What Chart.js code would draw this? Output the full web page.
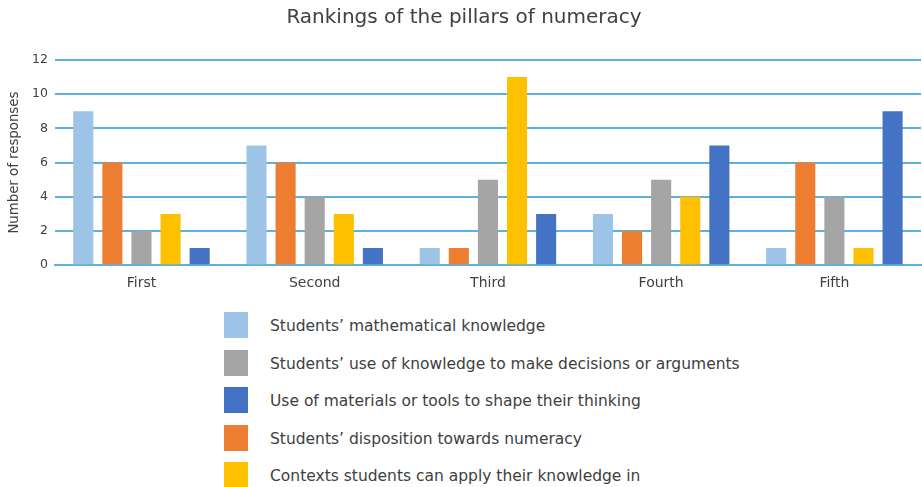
<!DOCTYPE html>
<html>
<head>
<meta charset="utf-8">
<script src="https://cdn.jsdelivr.net/npm/chart.js@4/dist/chart.umd.min.js"></script>
<style>
  html, body { margin: 0; padding: 0; background: #fff; }
  #wrap { position: relative; width: 922px; height: 487px; }
  #chartBox { position: absolute; left: 0; top: 0; width: 922px; height: 302px; }
  #legend { position: absolute; left: 224px; top: 312px; font-family: "DejaVu Sans", Verdana, sans-serif; font-size: 15.5px; color: #404040; }
  .row { position: relative; height: 37.6px; }
  .box { position: absolute; left: 0; top: 0; width: 24px; height: 26px; }
  .lbl { position: absolute; left: 46px; top: 5px; white-space: nowrap; }
</style>
</head>
<body>
<div id="wrap">
  <div id="chartBox"><canvas id="c" width="922" height="302"></canvas></div>
  <div id="legend"></div>
</div>
<script>
const categories = ["First", "Second", "Third", "Fourth", "Fifth"];
const seriesNames = [
  "Students\u2019 mathematical knowledge",
  "Students\u2019 disposition towards numeracy",
  "Students\u2019 use of knowledge to make decisions or arguments",
  "Contexts students can apply their knowledge in",
  "Use of materials or tools to shape their thinking"
];
const mathKnowledge = [9, 7, 1, 3, 1];
const disposition   = [6, 6, 1, 2, 6];
const useKnowledge  = [2, 4, 5, 5, 4];
const contexts      = [3, 3, 11, 4, 1];
const materials     = [1, 1, 3, 7, 9];
const yTicks = [0, 2, 4, 6, 8, 10, 12];
const colors = ["#9DC3E6", "#ED7D31", "#A5A5A5", "#FFC000", "#4472C4"];
const legendOrder = [0, 2, 4, 1, 3];

const values = [mathKnowledge, disposition, useKnowledge, contexts, materials];
const font = "'DejaVu Sans', Verdana, sans-serif";
const gridColor = "#5BB2E2";

const chart = new Chart(document.getElementById("c"), {
  type: "bar",
  data: {
    labels: categories,
    datasets: values.map((v, i) => ({
      label: seriesNames[i],
      data: v,
      backgroundColor: colors[i],
      borderWidth: 0,
      barPercentage: 0.69,
      categoryPercentage: 0.84
    }))
  },
  options: {
    responsive: false,
    animation: false,
    maintainAspectRatio: false,
    layout: { padding: { left: 7, right: 1, top: 0, bottom: 0 } },
    plugins: {
      legend: { display: false },
      tooltip: { enabled: false },
      title: {
        display: true,
        text: "Rankings of the pillars of numeracy",
        color: "#404040",
        font: { family: font, size: 20, weight: "normal" },
        padding: { top: 6, bottom: 30 }
      }
    },
    scales: {
      x: {
        grid: { display: false, drawTicks: false },
        border: { display: true, color: gridColor, width: 2 },
        ticks: { color: "#404040", font: { family: font, size: 14 }, padding: 10, maxRotation: 0 }
      },
      y: {
        min: 0, max: 12,
        afterBuildTicks: (s) => { s.ticks = yTicks.map(v => ({ value: v })); },
        grid: { color: gridColor, lineWidth: 2, drawTicks: false },
        border: { display: false },
        ticks: { color: "#404040", font: { family: font, size: 12.5 }, padding: 7 },
        title: {
          display: true,
          text: "Number of responses",
          color: "#404040",
          font: { family: font, size: 13.3 },
          padding: { top: 0, bottom: 2 }
        }
      }
    }
  }
});

const leg = document.getElementById("legend");
legendOrder.forEach(i => {
  const row = document.createElement("div");
  row.className = "row";
  const b = document.createElement("div");
  b.className = "box";
  b.style.background = colors[i];
  const t = document.createElement("div");
  t.className = "lbl";
  t.textContent = seriesNames[i];
  row.appendChild(b); row.appendChild(t);
  leg.appendChild(row);
});
</script>
</body>
</html>
